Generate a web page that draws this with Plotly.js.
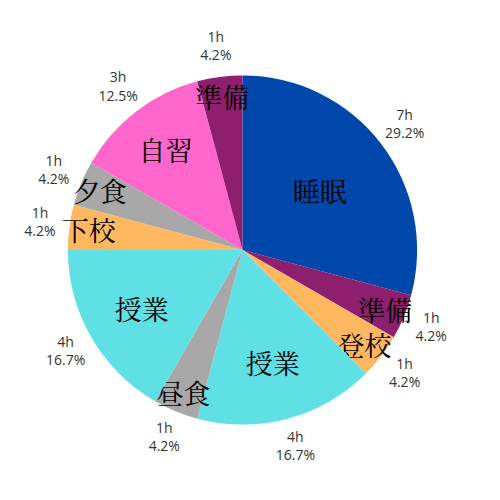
<!DOCTYPE html>
<html>
<head>
<meta charset="utf-8">
<script src="https://cdn.plot.ly/plotly-3.0.1.min.js"></script>
<style>html,body{margin:0;padding:0;background:#fff}#chart{width:500px;height:500px}</style>
</head>
<body>
<div id="chart"></div>
<script>
var activities = ['睡眠', '準備', '登校', '授業', '昼食', '授業', '下校', '夕食', '自習', '準備'];
var hours = [7, 1, 1, 4, 1, 4, 1, 1, 3, 1];
var colors = ['#0047AB', '#8E1F6E', '#FFB85F', '#5EE0E5', '#A8A8A8', '#5EE0E5', '#FFB85F', '#A8A8A8', '#FF66CC', '#8E1F6E'];

var ids = activities.map(function (a, i) { return a + i; });
var total = hours.reduce(function (s, h) { return s + h; }, 0);
var acc = 0;
var midAngles = hours.map(function (h) { var m = (acc + h / 2) / total * 360; acc += h; return m; });
var outsideText = hours.map(function (h) { return h + 'h<br>' + (h / total * 100).toFixed(1) + '%'; });

var pieDomain = {x: [50 / 450, 400 / 450], y: [50 / 450, 400 / 450]};

var common = {
  type: 'pie',
  values: hours,
  labels: ids,
  sort: false,
  direction: 'clockwise',
  rotation: 0,
  hoverinfo: 'skip',
  domain: pieDomain
};

// slices + inside labels
var inner = Object.assign({}, common, {
  text: activities,
  texttemplate: '<span style="font-size:27px">%{text}</span>',
  textposition: 'inside',
  insidetextorientation: 'horizontal',
  insidetextfont: {family: '"Noto Serif CJK JP", "IPAMincho", "Noto Sans CJK JP", serif', size: 13, color: '#000'},
  marker: {colors: colors, line: {width: 0}}
});

// tiny invisible pie at the centre: its one unscaled text fixes the uniform text size
var anchor = Object.assign({}, common, {
  domain: {x: [0.495, 0.505], y: [0.495, 0.505]},
  texttemplate: hours.map(function (h, i) { return i === 0 ? '.' : ''; }),
  textposition: 'outside',
  outsidetextfont: {size: 13, color: 'rgba(0,0,0,0)'},
  marker: {colors: hours.map(function () { return 'rgba(0,0,0,0)'; }), line: {width: 0}}
});

// outside labels (hours and share) on the polar scale around the pie
var outer = {
  type: 'scatterpolar',
  r: hours.map(function () { return 1.17; }),
  theta: midAngles,
  mode: 'text',
  text: outsideText,
  textposition: 'middle center',
  textfont: {family: '"Open Sans", "Noto Sans", sans-serif', size: 14, color: '#333'},
  cliponaxis: false,
  hoverinfo: 'skip',
  showlegend: false
};

var layout = {
  width: 500,
  height: 500,
  margin: {l: 17.5, r: 32.5, t: 25, b: 25},
  showlegend: false,
  paper_bgcolor: '#fff',
  uniformtext: {minsize: 13, mode: 'show'},
  polar: {
    domain: {x: [0, 1], y: [0, 1]},
    bgcolor: 'rgba(0,0,0,0)',
    radialaxis: {visible: false, range: [0, 225 / 175]},
    angularaxis: {visible: false, rotation: 90, direction: 'clockwise'}
  }
};

Plotly.newPlot('chart', [outer, inner, anchor], layout, {displayModeBar: false, staticPlot: true});
</script>
</body>
</html>
